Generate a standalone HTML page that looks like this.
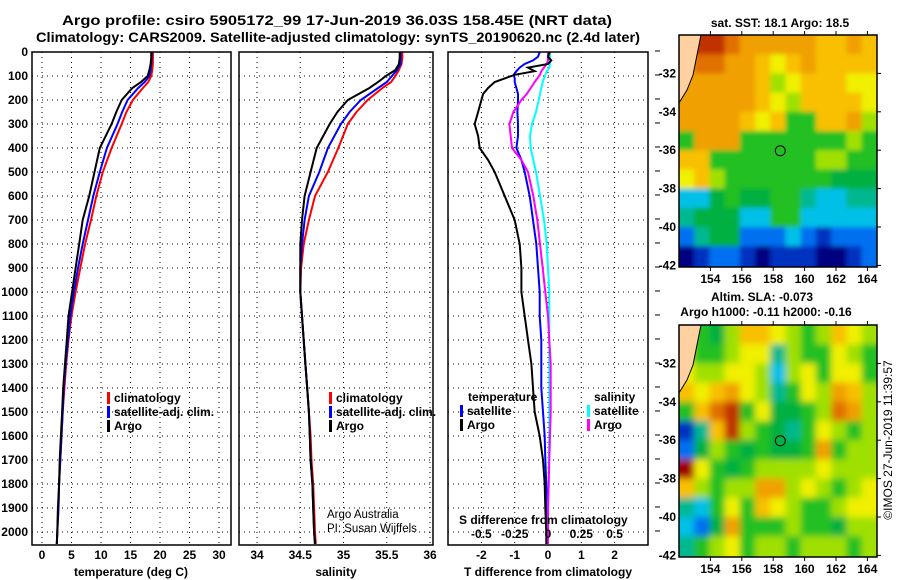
<!DOCTYPE html>
<html><head><meta charset="utf-8">
<style>
body{margin:0;background:#fff}
svg{display:block}
text{font-family:"Liberation Sans",sans-serif;font-weight:bold;font-size:12px;fill:#000}
</style></head>
<body>
<svg id="chart" width="900" height="580" viewBox="0 0 900 580">
<defs>
<filter id="blurS" x="-10%" y="-10%" width="120%" height="120%"><feGaussianBlur stdDeviation="2.5"/></filter>
<filter id="blurA" x="-10%" y="-10%" width="120%" height="120%"><feGaussianBlur stdDeviation="3.5"/></filter>
<clipPath id="clipTop"><rect x="679" y="35" width="198" height="232"/></clipPath>
<clipPath id="clipBot"><rect x="679" y="325" width="198" height="232"/></clipPath>
</defs>
<text x="62" y="25" textLength="550" lengthAdjust="spacingAndGlyphs" style="font-size:14px">Argo profile: csiro 5905172_99 17-Jun-2019 36.03S 158.45E (NRT data)</text>
<text x="36" y="42" textLength="604" lengthAdjust="spacingAndGlyphs" style="font-size:14px">Climatology: CARS2009. Satellite-adjusted climatology: synTS_20190620.nc (2.4d later)</text>
<g id="g"></g>
</svg>
<script>
const depths=[0,25,50,75,100,125,150,200,250,300,400,500,600,700,800,900,1000,1100,1200,1300,1400,1500,1600,1700,1800,1900,2000,2050];
const argoT=[18.5,18.5,18.4,18.2,17.9,16.8,15.3,13.5,12.6,11.8,9.8,8.9,8.0,6.9,6.3,5.7,5.1,4.5,4.2,3.9,3.6,3.4,3.2,3.0,2.9,2.7,2.6,2.5];
const climT=[18.8,18.8,18.8,18.7,18.5,18.0,17.1,15.4,14.3,13.5,11.8,10.3,9.2,8.3,7.3,6.5,5.7,5.0,4.5,4.1,3.8,3.5,3.3,3.1,2.9,2.8,2.6,2.5];
const satT=[18.6,18.6,18.5,18.4,18.2,17.4,16.3,14.5,13.6,12.8,11.0,9.8,8.7,7.8,6.9,6.1,5.4,4.8,4.4,4.0,3.7,3.5,3.3,3.1,2.9,2.8,2.6,2.5];
const argoS=[35.65,35.65,35.64,35.6,35.49,35.4,35.3,35.05,34.93,34.84,34.69,34.62,34.55,34.52,34.5,34.5,34.5,34.52,34.54,34.56,34.58,34.6,34.61,34.62,34.64,34.65,34.66,34.67];
const climS=[35.68,35.68,35.67,35.64,35.6,35.55,35.45,35.28,35.15,35.05,34.94,34.82,34.67,34.6,34.54,34.51,34.5,34.52,34.54,34.56,34.58,34.6,34.62,34.63,34.65,34.66,34.67,34.68];
const satS=[35.66,35.66,35.66,35.62,35.56,35.5,35.4,35.2,35.07,34.97,34.82,34.72,34.6,34.55,34.52,34.5,34.5,34.52,34.54,34.56,34.58,34.6,34.61,34.62,34.64,34.65,34.66,34.67];
const depths3=[0,20,35,50,65,80,95,110,125,150,175,200,250,300,350,400,450,500,600,700,800,900,1000,1100,1200,1300,1400,1500,1600,1700,1800,1900,2000,2050];
const dTargo=[0.05,0.0,0.1,0.0,-0.6,-0.4,-1.0,-1.3,-1.6,-1.8,-1.95,-2.0,-2.1,-2.2,-2.1,-2.05,-1.8,-1.6,-1.3,-1.0,-0.85,-0.8,-0.8,-0.7,-0.6,-0.5,-0.45,-0.4,-0.25,-0.15,-0.1,-0.08,-0.05,-0.05];
const dTsat=[-0.25,-0.3,-0.45,-0.7,-0.85,-0.95,-1.03,-1.0,-1.0,-0.95,-0.9,-0.9,-0.92,-0.9,-0.9,-0.95,-0.8,-0.7,-0.55,-0.45,-0.35,-0.3,-0.25,-0.25,-0.2,-0.2,-0.2,-0.15,-0.1,-0.08,-0.05,-0.03,-0.02,-0.02];
const dSargo=[0,0,0,-0.01,-0.03,-0.05,-0.06,-0.08,-0.1,-0.13,-0.16,-0.2,-0.26,-0.29,-0.28,-0.27,-0.2,-0.15,-0.11,-0.08,-0.06,-0.04,-0.02,0,0.01,0.02,0.02,0.02,0.015,0.01,0.005,0,0,0];
const dSsat=[0.015,0.015,0.015,0.015,0.01,-0.01,-0.02,-0.03,-0.04,-0.05,-0.06,-0.07,-0.09,-0.12,-0.135,-0.13,-0.11,-0.09,-0.06,-0.03,-0.01,0,0.01,0.01,0.01,0.01,0.01,0.01,0.01,0.005,0.005,0,0,0];
const depthTicks=[0,100,200,300,400,500,600,700,800,900,1000,1100,1200,1300,1400,1500,1600,1700,1800,1900,2000];
const tTicks=[0,5,10,15,20,25,30];
const sTicks=[34,34.5,35,35.5,36];
const dtTicks=[-2,-1,0,1,2];
const dsTicks=[-0.5,-0.25,0,0.25,0.5];
const dsTickLabels=["-0.5","-0.25","0","0.25","0.5"];
const palette=["#000080","#0030c0","#0070f0","#00c0e8","#00b890","#00b040","#20c020","#a0e000","#f0f000","#f8c000","#f0a000","#e07000","#c03000","#a00000"];
const sstGrid=[
[11,12,12,11,10,10,10,10,10,9,9,10,9],
[10,11,11,10,10,9,8,9,10,9,9,9,9],
[10,10,10,10,10,9,7,8,9,9,9,8,8],
[10,10,10,10,10,9,8,7,9,9,9,9,8],
[10,10,10,10,9,8,9,6,6,9,9,10,7],
[6,10,10,10,6,6,6,6,6,6,6,7,6],
[9,9,6,6,6,6,6,6,6,7,7,6,6],
[8,9,7,6,6,6,6,6,6,6,5,5,5],
[3,3,5,6,5,5,6,6,4,3,3,4,4],
[4,5,5,5,3,3,6,6,3,3,3,3,3],
[2,4,5,5,2,2,2,3,2,1,2,2,2],
[0,1,2,2,1,0,1,1,1,0,0,1,2]];
const slaGrid=[
[7,6,5,7,9,9,8,7,6,7,9,8,7],
[7,6,6,7,8,8,4,7,6,6,8,7,6],
[8,7,7,8,8,7,3,7,8,6,8,8,6],
[9,8,9,10,8,7,4,6,8,7,10,9,7],
[6,9,11,12,6,8,5,5,6,7,11,10,7],
[1,4,9,12,7,6,5,4,6,8,7,6,7],
[2,5,7,6,5,6,5,5,6,10,6,7,7],
[13,8,6,5,6,7,7,7,7,8,7,7,7],
[9,7,6,7,7,10,10,7,8,7,6,7,8],
[4,3,6,8,6,9,8,7,6,6,7,8,8],
[3,2,5,10,6,6,6,7,6,6,5,7,7],
[4,6,7,8,6,7,7,6,7,7,7,6,7]];
const lonTicks=[154,156,158,160,162,164];
const latTicks=[-32,-34,-36,-38,-40,-42];
const argoLon=158.45, argoLat=-36.03;

const NS="http://www.w3.org/2000/svg";
const G=document.getElementById('g');
function mk(tag,attrs,parent){const e=document.createElementNS(NS,tag);for(const k in attrs)e.setAttribute(k,attrs[k]);(parent||G).appendChild(e);return e;}
function txt(x,y,s,anchor,parent,extra){const e=mk('text',Object.assign({x:x,y:y,'text-anchor':anchor||'start'},extra||{}),parent);e.textContent=s;return e;}
const TOP=52,BOT=545;
const yD=d=>TOP+d*0.24;

function panel(name,x0,x1,xs,ticks,labels){
  const g=mk('g',{});
  
  
  depthTicks.forEach(d=>{mk('line',{x1:x0,x2:x1,y1:yD(d),y2:yD(d),stroke:'#000','stroke-dasharray':'1,4'},g);});
  ticks.forEach((t,i)=>{const x=xs(t);mk('line',{x1:x,x2:x,y1:TOP,y2:BOT,stroke:'#000','stroke-dasharray':'1,4'},g);
    const l=txt(x,559,labels?labels[i]:String(t),'middle',g);
    
    });
  return g;
}
function line(g,xs,ys,vals,deps,color,name){
  const pts=vals.map((v,i)=>xs(v).toFixed(1)+','+yD(deps[i]).toFixed(1)).join(' ');
  const p=mk('polyline',{points:pts,fill:'none',stroke:color,'stroke-width':2},g);
  
  
}
function frame(g,x0,x1){mk('rect',{x:x0,y:TOP,width:x1-x0,height:BOT-TOP,fill:'none',stroke:'#000','stroke-width':1.5},g);}
function legend(g,x,y,items){items.forEach((it,i)=>{mk('rect',{x:x,y:y+i*14-10,width:3,height:12,fill:it[0]},g);
  const t=txt(x+7,y+i*14,it[1],'start',g);
  
  });}

// Panel 1
const xT=t=>42+t*5.9;
const g1=panel('temperature-panel',32,231,xT,tTicks);
line(g1,xT,null,climT,depths,'#f00','climatology-temp-line');
line(g1,xT,null,satT,depths,'#00f','satellite-temp-line');
line(g1,xT,null,argoT,depths,'#000','argo-temp-line');
frame(g1,32,231);
depthTicks.forEach(d=>{const t=txt(28,yD(d)+4,String(d),'end',g1);
  
  });
legend(g1,107,402,[['#f00','climatology'],['#00f','satellite-adj. clim.'],['#000','Argo']]);
const xt1=txt(131,576,'temperature (deg C)','middle',g1);



// Panel 2
const xS=s=>257+(s-34)*86.5;
const g2=panel('salinity-panel',239,433,xS,sTicks);
line(g2,xS,null,climS,depths,'#f00','climatology-sal-line');
line(g2,xS,null,satS,depths,'#00f','satellite-sal-line');
line(g2,xS,null,argoS,depths,'#000','argo-sal-line');
frame(g2,239,433);
legend(g2,329,402,[['#f00','climatology'],['#00f','satellite-adj. clim.'],['#000','Argo']]);
txt(327,518,'Argo Australia','start',g2,{style:'font-weight:normal;font-size:11.5px'});
txt(327,532,'PI: Susan Wijffels','start',g2,{style:'font-weight:normal;font-size:11.5px'});
const xt2=txt(336,576,'salinity','middle',g2);



// Panel 3
const xDT=t=>548+t*33.3;
const xDS=s=>548+s*133.2;
const g3=panel('difference-panel',448,648,xDT,dtTicks);
depthTicks.forEach(d=>{mk('line',{x1:655,x2:660,y1:yD(d)-1,y2:yD(d)-1,stroke:'#000'},g3);});
line(g3,xDT,null,dTsat,depths3,'#00f','satellite-temp-diff-line');
line(g3,xDS,null,dSsat,depths3,'#0ff','satellite-sal-diff-line');
line(g3,xDS,null,dSargo,depths3,'#f0f','argo-sal-diff-line');
line(g3,xDT,null,dTargo,depths3,'#000','argo-temp-diff-line');
frame(g3,448,648);
txt(468,401,'temperature','start',g3);
legend(g3,460,415,[['#00f','satellite'],['#000','Argo']]);
txt(594,401,'salinity','start',g3);
legend(g3,587,415,[['#0ff','satellite'],['#f0f','Argo']]);
txt(459,524,'S difference from climatology','start',g3);
dsTicks.forEach((s,i)=>{const t=txt(xDS(s),538,dsTickLabels[i],'middle',g3);
  
  });
const xt3=txt(548,576,'T difference from climatology','middle',g3);



// Maps
function map(name,top,grid,clip,filt){
  const g=mk('g',{});
  
  
  const L=679,R=877,H=232;
  const lx=lon=>L+(lon-152)*15.7, ly=lat=>top+(-30-lat)*19.2;
  const cg=mk('g',{'clip-path':'url(#'+clip+')'},g);
  const bg=mk('g',{filter:'url(#'+filt+')'},cg);
  const cw=15.7*12.6/13, nr=grid.length, nc=grid[0].length;
  grid.forEach((row,r)=>row.forEach((v,c)=>{
    let x=lx(152+c*(12.6/13)), y=ly(-30-r), w=cw+0.5, h=19.7;
    if(c===0){x-=20;w+=20;} if(c===nc-1){w+=20;}
    if(r===0){y-=20;h+=20;} if(r===nr-1){h+=20;}
    const cell=mk('rect',{x:x,y:y,width:w,height:h,fill:palette[v]},bg);
    
    
  }));
  mk('path',{d:`M${L},${top} L${L+22},${top} L${L+18},${top+20} L${L+14},${top+40} L${L+8},${top+55} L${L},${top+68} Z`,fill:'#ffd0a0',stroke:'#000','stroke-width':1},g);
  mk('rect',{x:L,y:top,width:R-L,height:H,fill:'none',stroke:'#000','stroke-width':1.5},g);
  lonTicks.forEach(l=>{mk('line',{x1:lx(l),x2:lx(l),y1:top-4,y2:top,stroke:'#000'},g);mk('line',{x1:lx(l),x2:lx(l),y1:top+H,y2:top+H+4,stroke:'#000'},g);
    const t=txt(lx(l),top+H+16,String(l),'middle',g);
    
    });
  latTicks.forEach(l=>{mk('line',{x1:R,x2:R+4,y1:ly(l),y2:ly(l),stroke:'#000'},g);
    const t=txt(676,ly(l)+4,String(l),'end',g);
    
    });
  const m=mk('circle',{cx:lx(argoLon),cy:ly(argoLat),r:5,fill:'none',stroke:'#000','stroke-width':1},g);
  
  
  return g;
}
map('sst-map',35,sstGrid,'clipTop','blurS');
txt(780,27,'sat. SST: 18.1 Argo: 18.5','middle');
map('sla-map',325,slaGrid,'clipBot','blurA');
txt(762,301,'Altim. SLA: -0.073','middle');
txt(766,316,'Argo h1000: -0.11 h2000: -0.16','middle');
txt(0,0,'©IMOS 27-Jun-2019 11:39:57','middle',G,{transform:'translate(892,440) rotate(-90)',style:'font-weight:normal;font-size:12px'});
</script>
</body></html>
